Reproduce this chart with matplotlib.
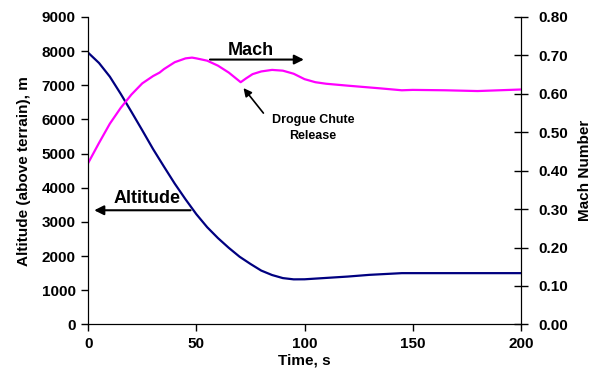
import matplotlib.pyplot as plt

plt.rcParams['font.family'] = ['Liberation Sans', 'DejaVu Sans']
plt.rcParams['font.weight'] = 'bold'

time_alt = [0, 5, 10, 15, 20, 25, 30, 35, 40, 45, 50, 55, 60, 65, 70, 75,
            80, 85, 90, 95, 100, 110, 120, 130, 145, 200]
altitude = [7950, 7650, 7250, 6750, 6220, 5680, 5130, 4620, 4120, 3660, 3225,
            2845, 2525, 2240, 1980, 1770, 1575, 1445, 1355, 1318, 1320, 1360,
            1400, 1450, 1500, 1500]

time_mach = [0, 5, 10, 15, 20, 25, 30, 33, 35, 40, 45, 48, 50, 55, 60, 65,
             70.5, 73, 76, 80, 85, 90, 95, 100, 105, 110, 120, 135, 145, 150,
             165, 180, 200]
mach = [0.42, 0.472, 0.522, 0.563, 0.598, 0.627, 0.646, 0.655, 0.664, 0.682,
        0.692, 0.694, 0.692, 0.686, 0.673, 0.655, 0.630, 0.640, 0.651, 0.658,
        0.662, 0.660, 0.652, 0.638, 0.630, 0.626, 0.621, 0.614, 0.609, 0.610,
        0.609, 0.607, 0.611]

fig = plt.figure(figsize=(6, 3.83), dpi=100)
ax = fig.add_axes([0.147, 0.153, 0.721, 0.803])
ax2 = ax.twinx()

ax.plot(time_alt, altitude, color='#000080', lw=1.6)
ax2.plot(time_mach, mach, color='#FF00FF', lw=1.6)

ax.set_xlim(0, 200)
ax.set_ylim(0, 9000)
ax2.set_ylim(0, 0.8)
ax.set_xticks(range(0, 201, 50))
ax.set_yticks(range(0, 9001, 1000))
ax2.set_yticks([i / 10 for i in range(9)])
ax2.set_yticklabels(['%.2f' % (i / 10) for i in range(9)])

for a in (ax, ax2):
    a.spines['top'].set_visible(False)
    a.tick_params(labelsize=11, width=1)
ax.tick_params(axis='both', direction='out', length=5, pad=4)
ax2.tick_params(axis='y', direction='inout', length=10, pad=8)

ax.set_xlabel('Time, s', fontsize=11, fontweight='bold', labelpad=2)
ax.set_ylabel('Altitude (above terrain), m', fontsize=11, fontweight='bold',
              labelpad=8)
ax2.set_ylabel('Mach Number', fontsize=11, fontweight='bold', labelpad=7)

arrow = dict(arrowstyle='-|>', color='black', lw=1.5, mutation_scale=14)
ax.annotate('', xy=(101, 7750), xytext=(55, 7750), arrowprops=arrow)
ax.text(75, 8020, 'Mach', fontsize=13, fontweight='bold', ha='center', va='center')
ax.annotate('', xy=(1.5, 3340), xytext=(48.6, 3340), arrowprops=arrow)
ax.text(27, 3685, 'Altitude', fontsize=13, fontweight='bold', ha='center', va='center')
ax.annotate('', xy=(71, 6980), xytext=(81.8, 6120),
            arrowprops=dict(arrowstyle='-|>', color='black', lw=1.2, mutation_scale=12))
ax.text(104, 5740, 'Drogue Chute\nRelease', fontsize=9, fontweight='bold',
        ha='center', va='center', linespacing=1.4)

fig.savefig('out.png', dpi=100)
